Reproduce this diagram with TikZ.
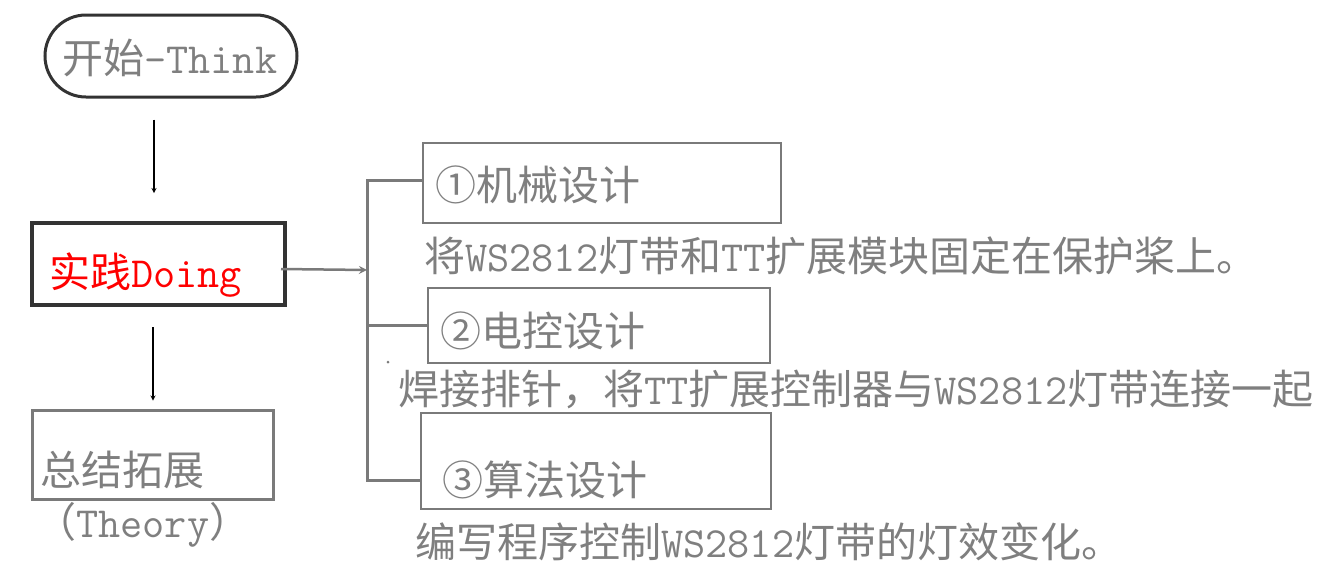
\documentclass[tikz,border=0pt]{standalone}
\usepackage{fontspec}
\setmainfont{Noto Sans CJK SC}
\usepackage{tikz}
\usetikzlibrary{arrows.meta}
\definecolor{txtgray}{HTML}{7F7F7F}
\definecolor{linegray}{HTML}{7A7A7A}
\definecolor{darkline}{HTML}{333333}
\newcommand{\lat}[1]{{\fontsize{43}{43}\selectfont\ttfamily #1}}

\begin{document}
\begin{tikzpicture}[x=1pt,y=-1pt,>=stealth,semithick,
  txt/.style={anchor=base west,inner sep=0pt,text=txtgray,font=\fontsize{41}{41}\selectfont},
  thinbox/.style={draw=linegray,line width=1.5pt,inner sep=0pt},
  startbox/.style={draw=darkline,line width=3pt,rounded corners=41pt,inner sep=0pt},
  doingbox/.style={draw=darkline,line width=4pt,inner sep=0pt},
  sumbox/.style={draw=linegray,line width=3pt,inner sep=0pt},
  arr/.style={->,line width=1.2pt,black},
  bracket/.style={draw=linegray,line width=3pt}]
\useasboundingbox (0,0) rectangle (1333,584);

% left column
\node[startbox,minimum width=252,minimum height=82] (start) at (171,56) {};
\node[txt] (tstart) at (62,73) {开始\lat{-Think}};
\node[doingbox,minimum width=253,minimum height=82] (doing) at (158.5,264) {};
\node[txt,text=red] (tdoing) at (49,287) {实践\lat{Doing}};
\node[sumbox,minimum width=241,minimum height=89] (sum) at (152.5,454.5) {};
\node[txt] (tsum) at (40,485) {总结拓展};
\node[txt] (ttheory) at (35,537) {（\lat{Theory}）};

% right column
\node[thinbox,minimum width=358,minimum height=80] (b1) at (602,183) {};
\node[txt] (t1) at (435,200) {①机械设计};
\node[txt] (d1) at (424,271) {将\lat{WS2812}灯带和\lat{TT}扩展模块固定在保护桨上。};
\node[thinbox,minimum width=342,minimum height=75] (b2) at (599,325.5) {};
\node[txt] (t2) at (440,346) {②电控设计};
\node[txt] (d2) at (398,404) {焊接排针，将\lat{TT}扩展控制器与\lat{WS2812}灯带连接一起};
\node[thinbox,minimum width=350,minimum height=96] (b3) at (596,461) {};
\node[txt] (t3) at (442,495) {③算法设计};
\node[txt] (d3) at (415,557) {编写程序控制\lat{WS2812}灯带的灯效变化。};

\coordinate (jn) at (367,270);
\fill[linegray] (388,362) circle (1.5);

\draw[arr] ([xshift=-17pt,yshift=-21pt]start.south) -- ([xshift=-4.5pt,yshift=28pt]doing.north);
\draw[arr] ([xshift=-5.5pt,yshift=-20pt]doing.south) -- ([xshift=0.5pt,yshift=8pt]sum.north);
\draw[->,draw=linegray,line width=2.5pt] ([xshift=-6pt,yshift=-5pt]doing.east) -- (jn);
\draw[bracket] (b1.west |- 0,180) -| (jn) |- (b3.west |- 0,480);
\draw[bracket] (jn |- b2.west) -- (b2.west);
\end{tikzpicture}
\end{document}
